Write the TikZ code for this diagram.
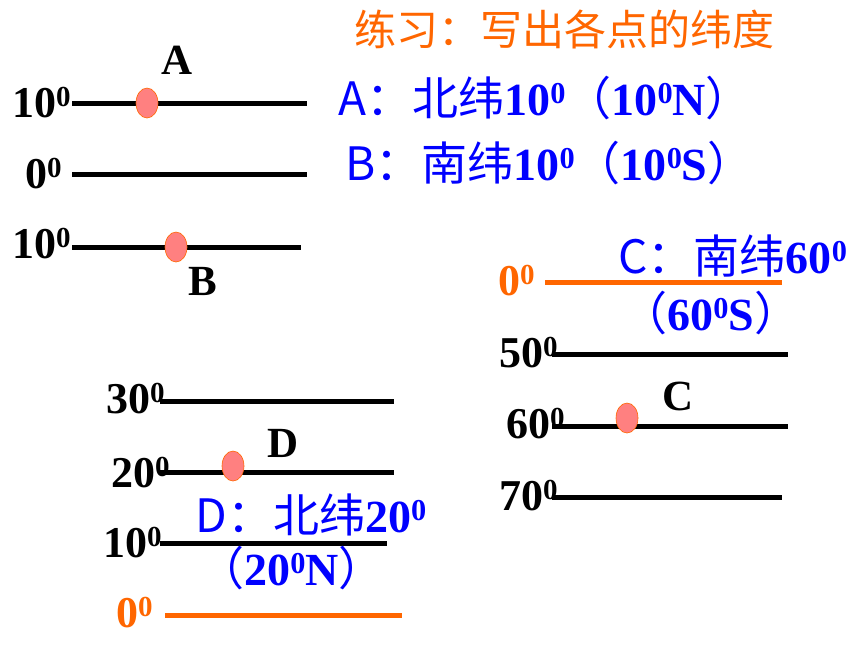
\documentclass[tikz,border=0pt]{standalone}
\usepackage{fontspec}
\setmainfont{Liberation Serif}
\newfontfamily\cjk{Noto Sans CJK SC}
\usetikzlibrary{shapes.geometric}
\definecolor{lineorange}{HTML}{FF6600}
\definecolor{noteblue}{HTML}{0000FF}
\definecolor{dotpink}{HTML}{FF8080}
\newcommand{\dg}[1]{#1\raisebox{0.25em}{\scalebox{0.66}{0}}}
\newcommand{\zh}[1]{{\cjk\mdseries #1}}

\begin{document}
\begin{tikzpicture}[
    x=0.5pt, y=-0.5pt,
    lat/.style={line width=2.5pt, black},
    equator/.style={line width=2.5pt, lineorange},
    deg/.style={font=\fontsize{22}{26}\selectfont\bfseries, inner sep=0pt},
    ptname/.style={font=\fontsize{21.5}{26}\selectfont\bfseries, inner sep=0pt},
    dot/.style={ellipse, fill=dotpink, draw=lineorange, line width=0.3pt, minimum width=11pt, minimum height=15pt, inner sep=0pt},
    note/.style={font=\fontsize{23}{27}\selectfont\bfseries, text=noteblue, inner sep=0pt},
    title/.style={font=\cjk\fontsize{21}{25}\selectfont, text=lineorange, inner sep=0pt}
  ]
    \useasboundingbox (0,0) rectangle (860,645);

    \node[title] (title) at (564,29) {练习：写出各点的纬度};

    % points A and B
    \draw[lat] (72,103) -- (307,103);
    \draw[lat] (72,174) -- (307,174);
    \draw[lat] (72,247) -- (301,247);
    \node[deg, anchor=base east] (nTen) at (71,117) {\dg{10}};
    \node[deg, anchor=base east] (eqTop) at (62,188) {\dg{0}};
    \node[deg, anchor=base east] (sTen) at (71,258) {\dg{10}};
    \node[dot] (dotA) at (147,103) {};
    \node[dot] (dotB) at (176,247) {};
    \node[ptname, anchor=base] (labA) at (177,74) {A};
    \node[ptname, anchor=base] (labB) at (203,295) {B};
    \node[note, anchor=base west] (ansA) at (338,115) {\zh{A：北纬}\dg{10}\zh{（}\dg{10}N\zh{）}};
    \node[note, anchor=base west] (ansB) at (345,180) {\zh{B：南纬}\dg{10}\zh{（}\dg{10}S\zh{）}};

    % point C
    \draw[equator] (545,282) -- (782,282);
    \draw[lat] (552,354) -- (788,354);
    \draw[lat] (552,426) -- (788,426);
    \draw[lat] (552,497) -- (782,497);
    \node[deg, anchor=base east, text=lineorange] (eqC) at (535,295) {\dg{0}};
    \node[deg, anchor=base east] (sFifty) at (558,367) {\dg{50}};
    \node[deg, anchor=base east] (sSixty) at (565,438) {\dg{60}};
    \node[deg, anchor=base east] (sSeventy) at (558,510) {\dg{70}};
    \node[dot] (dotC) at (627,418) {};
    \node[ptname, anchor=base] (labC) at (678,410) {C};
    \node[note, anchor=base west] (ansC) at (618,273) {\zh{C：南纬}\dg{60}};
    \node[note, anchor=base west] (ansCc) at (621,330) {\zh{（}\dg{60}S\zh{）}};

    % point D
    \draw[lat] (160,401) -- (394,401);
    \draw[lat] (160,472) -- (394,472);
    \draw[lat] (160,543) -- (387,543);
    \draw[equator] (165,615) -- (402,615);
    \node[deg, anchor=base east] (nThirty) at (165,413) {\dg{30}};
    \node[deg, anchor=base east] (nTwenty) at (170,487) {\dg{20}};
    \node[deg, anchor=base east] (nTenD) at (162,557) {\dg{10}};
    \node[deg, anchor=base east, text=lineorange] (eqD) at (153,627) {\dg{0}};
    \node[dot] (dotD) at (233,466) {};
    \node[ptname, anchor=base] (labD) at (283,457) {D};
    \node[note, anchor=base west] (ansD) at (195,532) {\zh{D：北纬}\dg{20}};
    \node[note, anchor=base west] (ansDd) at (198,585) {\zh{（}\dg{20}N\zh{）}};
  \end{tikzpicture}
\end{document}
